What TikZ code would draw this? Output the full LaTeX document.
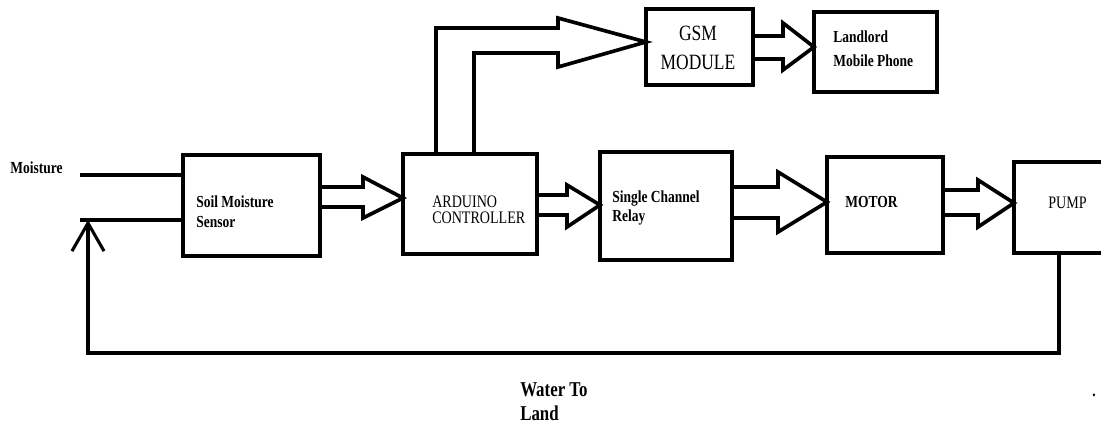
\documentclass[tikz,border=0pt]{standalone}
\usepackage{fontspec}
\setmainfont{Liberation Serif}[FakeStretch=0.8]
\usetikzlibrary{arrows.meta, calc}
\tikzset{
  blk/.style={draw, line width=2.8pt, inner sep=0pt, outer sep=0pt},
  fat/.style={line width=2.6pt, line join=miter},
  wire/.style={line width=2.4pt},
  lbl/.style={inner sep=0pt, align=left, anchor=west, font=\bfseries\fontsize{12}{14}\selectfont}
}
\begin{document}
\begin{tikzpicture}[x=0.025cm, y=-0.025cm]
\clip (0,0) rectangle (1101,425);
\node[blk, minimum width=3.425cm, minimum height=2.525cm] (soil) at (251.5,205.5) {};
\node[blk, minimum width=3.35cm, minimum height=2.5cm] (ard) at (470,204) {};
\node[blk, minimum width=3.3cm, minimum height=2.7cm] (relay) at (666,206) {};
\node[blk, minimum width=2.9cm, minimum height=2.4cm] (motor) at (885,205) {};
\node[blk, minimum width=2.55cm, minimum height=2.275cm] (pump) at (1065,207.5) {};
\node[blk, minimum width=2.675cm, minimum height=1.9cm] (gsm) at (699.5,47) {};
\node[blk, minimum width=3.075cm, minimum height=2cm] (phone) at (875.5,52) {};

\node[lbl] (tmoist) at (10,168) {Moisture};
\node[lbl, font=\bfseries\fontsize{12}{14.2}\selectfont] (tsoil) at (196,212) {Soil Moisture\\Sensor};
\node[lbl, font=\fontsize{12.5}{11.5}\selectfont] (tard) at (432,210) {ARDUINO\\CONTROLLER};
\node[lbl, font=\bfseries\fontsize{12}{13.5}\selectfont] (trelay) at (612,207.5) {Single Channel\\Relay};
\node[lbl] (tmotor) at (845,202) {MOTOR};
\node[lbl, font=\fontsize{12.5}{14}\selectfont] (tpump) at (1048,203) {PUMP};
\node[inner sep=0pt, align=center, font=\fontsize{15.5}{21}\selectfont] (tgsm) at (698,48) {GSM\\MODULE};
\node[lbl, font=\bfseries\fontsize{12}{17}\selectfont] (tphone) at (833,49) {Landlord\\Mobile Phone};
\node[lbl, font=\bfseries\fontsize{15}{17}\selectfont] (twater) at (520,402) {Water To\\Land};
\node[inner sep=0pt, font=\bfseries\fontsize{12}{14}\selectfont] (tdot) at (1094,395) {.};

\draw[fat] (soil.east |- 0,187) -- (363,187) -- (363,177) -- (ard.west |- 0,198) -- (363,218) -- (363,207) -- (soil.east |- 0,207);
\draw[fat] (ard.east |- 0,195) -- (567,195) -- (567,185) -- (relay.west |- 0,205) -- (567,227) -- (567,215) -- (ard.east |- 0,215);
\draw[fat] (relay.east |- 0,187) -- (778,187) -- (778,172) -- (motor.west |- 0,202) -- (778,232) -- (778,218) -- (relay.east |- 0,218);
\draw[fat] (motor.east |- 0,190) -- (978,190) -- (978,180) -- (pump.west |- 0,203) -- (978,227) -- (978,215) -- (motor.east |- 0,215);
\draw[fat] (ard.north -| 436,0) -- (436,28) -- (558,28) -- (558,18) -- (gsm.west |- 0,42) -- (558,67) -- (558,53) -- (474,53) -- (ard.north -| 474,0);
\draw[fat] (gsm.east |- 0,36) -- (783,36) -- (783,23) -- (phone.west |- 0,47) -- (783,70) -- (783,59) -- (gsm.east |- 0,59);

\coordinate (in1) at (80,175);
\coordinate (in2) at (80,220);
\coordinate (fb) at (88,353);
\draw[wire] (in1) -- (soil.west |- in1);
\draw[wire] (in2) -- (soil.west |- in2);
\draw[wire, line width=2.2pt, -{Straight Barb[length=0.7cm, width=0.8cm]}] (pump.south -| 1059,0) -- (1059,353) -- (fb) -- (in2 -| fb);
\end{tikzpicture}
\end{document}
